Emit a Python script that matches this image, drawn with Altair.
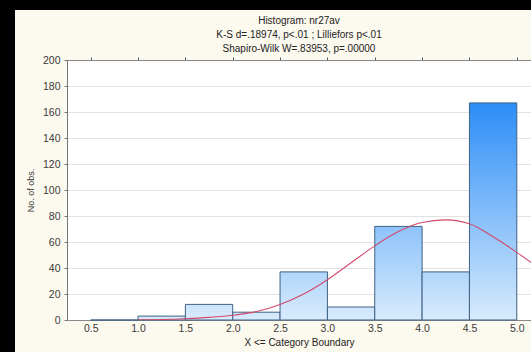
import altair as alt
import pandas as pd

# Histogram bins (lower / upper category boundary) and counts
bin_lo = [0.5, 1.0, 1.5, 2.0, 2.5, 3.0, 3.5, 4.0, 4.5]
bin_hi = [1.0, 1.5, 2.0, 2.5, 3.0, 3.5, 4.0, 4.5, 5.0]
counts = [0, 3, 12, 6, 37, 10, 72, 37, 167]

# Fitted normal curve
curve_x = [1.0, 1.25, 1.5, 1.75, 2.0, 2.25, 2.5, 2.75, 3.0, 3.25, 3.5, 3.75,
           4.0, 4.25, 4.5, 4.75, 5.0, 5.25]
curve_y = [0.2, 0.4, 1.0, 2.0, 3.6, 6.5, 12, 20, 31, 44, 57, 68,
           75, 77, 74, 64, 52, 39]

x_ticks = [0.5, 1.0, 1.5, 2.0, 2.5, 3.0, 3.5, 4.0, 4.5, 5.0]
y_ticks = [0, 20, 40, 60, 80, 100, 120, 140, 160, 180, 200]

title_lines = ["Histogram: nr27av",
               "K-S d=.18974, p<.01 ; Lilliefors p<.01",
               "Shapiro-Wilk W=.83953, p=.00000"]

W, H = 464, 260
FONT = "Liberation Sans"
XDOM = [0.25, 5.15]
YDOM = [0, 200]

bars_df = pd.DataFrame({"lo": bin_lo, "hi": bin_hi, "n": counts})
curve_df = pd.DataFrame({"x": curve_x, "y": curve_y})

xs = alt.Scale(domain=XDOM, nice=False, zero=False)
ys = alt.Scale(domain=YDOM, nice=False)

BOT = (0xd8, 0xeb, 0xfc)
TOP = (0x1f, 0x86, 0xf7)


def col_at(f):
    f = max(0.0, min(1.0, f / 0.9))
    c = [round(BOT[i] + (TOP[i] - BOT[i]) * f) for i in range(3)]
    return "#%02x%02x%02x" % tuple(c)


one = pd.DataFrame({"a": [0]})
# black screenshot frame at left and top
strip_left = alt.Chart(one).mark_rect(color="#000000").encode(
    x=alt.value(-67), x2=alt.value(-52), y=alt.value(-60), y2=alt.value(H + 32))
strip_top = alt.Chart(one).mark_rect(color="#000000").encode(
    x=alt.value(-67), x2=alt.value(W), y=alt.value(-60), y2=alt.value(-50))

y_axis = alt.Axis(
    values=y_ticks, title="No. of obs.", grid=True, gridColor="#e2e2e2",
    labelFont=FONT, labelFontSize=10.5, labelColor="#3a3a3a",
    titleFont=FONT, titleFontSize=9, titleColor="#3a3a3a", titleFontWeight="normal",
    titlePadding=7, tickSize=3, tickColor="#777", domainColor="#777",
    labelPadding=4, labelOverlap=False, labelFlush=False)

base_axes = alt.Chart(bars_df).mark_rule(opacity=0).encode(
    x=alt.X("lo:Q", scale=xs, axis=alt.Axis(
        values=x_ticks, format=".1f", title="X <= Category Boundary",
        grid=False, labelFont=FONT, labelFontSize=10.5, labelColor="#3a3a3a",
        titleFont=FONT, titleFontSize=10, titleColor="#222", titleFontWeight="normal",
        titlePadding=4, labelPadding=3, tickSize=0, domainColor="#888",
        labelFlush=False, labelOverlap=False)),
    y=alt.Y("n:Q", scale=ys, axis=y_axis),
)

top_axis = alt.Chart(bars_df).mark_rule(opacity=0).encode(
    x=alt.X("hi:Q", scale=xs, axis=alt.Axis(
        orient="top", values=x_ticks, labels=False, title=None, grid=False,
        tickSize=3, tickColor="#555", domainColor="#888")),
)

bar_layers = []
for lo, hi, n in zip(bin_lo, bin_hi, counts):
    grad = alt.Gradient(
        gradient="linear", x1=0, y1=1, x2=0, y2=0,
        stops=[alt.GradientStop(offset=0, color=col_at(0)),
               alt.GradientStop(offset=1, color=col_at(n / 200))])
    bar_layers.append(
        alt.Chart(bars_df).transform_filter(alt.datum.lo == lo)
        .mark_rect(fill=grad, stroke="#3f6283", strokeWidth=1)
        .encode(x=alt.X("lo:Q", scale=xs, axis=None), x2="hi:Q",
                y=alt.Y("n:Q", scale=ys, axis=y_axis), y2=alt.datum(0))
    )

curve = alt.Chart(curve_df).mark_line(
    color="#d2496b", strokeWidth=1.1, interpolate="monotone", clip=True
).encode(x=alt.X("x:Q", scale=xs, axis=None), y=alt.Y("y:Q", scale=ys, axis=y_axis))

chart = alt.layer(strip_left, strip_top, base_axes, *bar_layers, curve, top_axis).resolve_axis(
    x="independent"
).properties(
    width=W, height=H,
    padding={"left": 67, "top": 60, "right": 0, "bottom": 32},
    autosize=alt.AutoSizeParams(type="none"),
    background="#fcf9ef",
    title=alt.TitleParams(text=title_lines, font=FONT, fontSize=10, fontWeight="normal",
                          color="#222", lineHeight=14, offset=-54, anchor="middle",
                          frame="group"),
).configure_view(stroke=None, fill="white")

chart.save("out.html", embed_options={"renderer": "svg", "actions": False})
